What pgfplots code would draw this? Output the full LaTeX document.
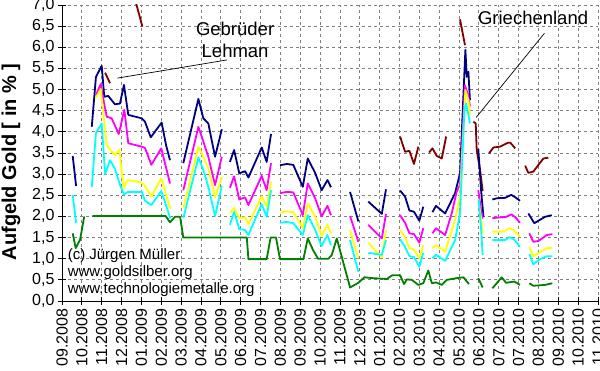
\documentclass[border=0pt]{standalone}
\usepackage{fontspec}
\setmainfont{Liberation Sans}
\usepackage{pgfplots}
\pgfplotsset{compat=1.18}
\definecolor{cMaroon}{RGB}{128,0,0}
\definecolor{cNavy}{RGB}{0,0,128}
\definecolor{cMagenta}{RGB}{255,0,255}
\definecolor{cYellow}{RGB}{255,255,0}
\definecolor{cCyan}{RGB}{0,255,255}
\definecolor{cGreen}{RGB}{0,128,0}
\definecolor{cGrid}{RGB}{128,128,128}
\begin{document}
\begin{tikzpicture}
\path[use as bounding box] (0pt,0pt) rectangle (600pt,371pt);
\begin{axis}[
  at={(62pt,70pt)}, anchor=south west,
  width=536pt, height=296pt, scale only axis,
  xmin=0, xmax=27, ymin=0, ymax=7,
  xtick={0,1,2,3,4,5,6,7,8,9,10,11,12,13,14,15,16,17,18,19,20,21,22,23,24,25,26,27},
  xticklabels={09.2008,10.2008,11.2008,12.2008,01.2009,02.2009,03.2009,04.2009,05.2009,06.2009,07.2009,08.2009,09.2009,10.2009,11.2009,12.2009,01.2010,02.2010,03.2010,04.2010,05.2010,06.2010,07.2010,07.2010,08.2010,09.2010,10.2010,11.2010},
  ytick={0,0.5,1,1.5,2,2.5,3,3.5,4,4.5,5,5.5,6,6.5,7},
  /pgf/number format/use comma,
  /pgf/number format/fixed,
  /pgf/number format/fixed zerofill,
  /pgf/number format/precision=1,
  /pgf/number format/assume math mode=true,
  tick label style={font=\fontsize{16}{16}\selectfont},
  xticklabel style={rotate=90, anchor=east},
  axis x line*=bottom, axis y line*=left,
  axis line style={black, line width=0.8pt, -},
  grid=major,
  major grid style={cGrid, line width=0.8pt, dash pattern=on 3pt off 3pt},
  tick align=center, major tick length=8pt,
  tick style={black, line width=0.8pt},
  unbounded coords=jump,
  every axis plot/.append style={line width=1.8pt, line join=round, mark=none},
]
% maroon
\addplot[cMaroon] coordinates {
(2.17,5.40) (2.42,5.15) (2.5,nan)
(3.58,7.30) (4.05,6.49) (4.1,nan)
(17.03,3.89) (17.28,3.53) (17.50,3.55) (17.73,3.24) (17.95,3.65) (18.1,nan)
(18.49,3.51) (18.66,3.61) (18.88,3.43) (19.13,3.37) (19.35,3.89) (19.5,nan)
(20.05,6.66) (20.30,6.05) (20.4,nan)
(20.72,4.24) (20.84,4.20) (20.89,3.57) (21.06,3.10) (21.19,2.60) (21.3,nan)
(21.51,3.49) (21.73,3.63) (22.07,3.65) (22.45,3.74) (22.59,3.74) (22.83,3.61) (23.0,nan)
(23.33,3.20) (23.49,3.03) (23.74,3.06) (24.25,3.37) (24.50,3.39)
};
% navy
\addplot[cNavy] coordinates {
(0.54,3.43) (0.71,2.72) (1.0,nan)
(1.50,4.12) (1.71,5.30) (2.00,5.56) (2.13,4.83) (2.33,4.85) (2.67,4.65) (2.92,4.67) (3.12,5.11) (3.34,4.40) (4.02,4.32) (4.18,4.24) (4.47,3.87) (5.02,4.22) (5.24,3.69) (5.44,3.33) (5.6,nan)
(6.11,3.26) (6.87,4.78) (7.12,4.32) (7.37,4.20) (7.71,3.41) (8.05,4.06) (8.2,nan)
(8.46,3.29) (8.67,3.57) (8.93,3.02) (9.22,3.07) (9.39,2.92) (10.06,3.63) (10.31,3.29) (10.53,3.95) (10.7,nan)
(10.98,3.21) (11.32,3.24) (11.65,3.22) (12.13,2.70) (12.38,3.37) (12.75,3.03) (13.08,2.62) (13.37,2.86) (13.55,2.69) (13.7,nan)
(14.51,2.58) (14.93,1.88) (15.1,nan)
(15.43,2.35) (16.11,2.06) (16.32,2.64) (16.5,nan)
(17.03,2.61) (17.28,2.47) (17.50,2.14) (17.73,2.11) (18.00,1.90) (18.20,2.23) (18.4,nan)
(18.66,2.10) (18.84,2.25) (19.30,2.07) (19.80,2.55) (20.05,3.02) (20.32,5.94) (20.39,5.30) (20.47,5.42) (20.55,4.75) (20.7,nan)
(20.97,3.60) (21.11,2.62) (21.23,1.99) (21.4,nan)
(21.68,2.40) (21.91,2.43) (22.32,2.44) (22.63,2.51) (22.84,2.45) (23.07,2.37) (23.2,nan)
(23.49,2.07) (23.79,1.84) (24.33,1.99) (24.67,2.03)
};
% magenta
\addplot[cMagenta] coordinates {
(1.71,4.87) (1.95,5.13) (2.03,4.91) (2.25,4.36) (2.50,4.32) (2.86,3.95) (3.14,4.52) (3.34,3.73) (4.02,3.65) (4.18,3.62) (4.50,3.22) (5.00,3.61) (5.44,2.78) (5.6,nan)
(6.11,2.62) (6.87,4.12) (7.12,3.77) (7.37,3.41) (7.71,2.74) (8.05,3.41) (8.2,nan)
(8.46,2.68) (8.67,2.95) (8.93,2.40) (9.22,2.45) (9.39,2.27) (10.06,2.96) (10.31,2.62) (10.53,3.26) (10.7,nan)
(10.98,2.55) (11.32,2.58) (11.65,2.57) (12.13,2.03) (12.38,2.78) (12.75,2.43) (13.08,2.00) (13.37,2.25) (13.55,2.03) (13.7,nan)
(14.51,2.01) (14.93,1.40) (15.1,nan)
(15.43,1.80) (16.11,1.48) (16.32,2.06) (16.5,nan)
(17.03,2.03) (17.28,1.85) (17.50,1.60) (17.73,1.58) (18.00,1.38) (18.20,1.72) (18.4,nan)
(18.66,1.60) (18.84,1.72) (19.30,1.56) (19.63,2.07) (19.88,2.58) (20.05,2.75) (20.30,5.10) (20.47,4.85) (20.55,4.60) (20.7,nan)
(20.97,2.62) (21.11,2.15) (21.19,1.95) (21.4,nan)
(21.68,1.96) (21.91,1.97) (22.37,1.99) (22.63,2.05) (22.84,1.98) (23.07,1.85) (23.2,nan)
(23.54,1.60) (23.74,1.40) (24.00,1.42) (24.42,1.56) (24.70,1.58)
};
% yellow
\addplot[cYellow] coordinates {
(1.71,4.80) (1.95,5.02) (2.25,3.70) (2.42,3.58) (2.67,3.45) (2.89,3.58) (3.10,2.68) (3.31,2.86) (4.02,2.80) (4.18,2.72) (4.50,2.47) (5.00,2.90) (5.46,2.18) (5.6,nan)
(6.11,2.19) (6.87,3.65) (7.12,3.41) (7.37,3.14) (7.71,2.45) (8.05,2.94) (8.2,nan)
(8.46,2.08) (8.67,2.20) (8.93,1.96) (9.22,1.98) (9.39,1.82) (10.06,2.48) (10.31,2.23) (10.53,2.82) (10.7,nan)
(10.98,2.09) (11.32,2.12) (11.65,2.10) (12.13,1.72) (12.38,2.31) (12.75,1.99) (13.08,1.54) (13.37,1.80) (13.55,1.60) (13.7,nan)
(14.51,1.68) (14.93,1.01) (15.1,nan)
(15.43,1.38) (16.11,1.03) (16.32,1.67) (16.5,nan)
(17.03,1.68) (17.28,1.51) (17.50,1.25) (17.73,1.22) (18.00,1.01) (18.20,1.32) (18.4,nan)
(18.66,1.25) (18.84,1.32) (19.30,1.17) (19.80,1.92) (20.05,2.47) (20.32,4.99) (20.47,4.75) (20.55,4.40) (20.7,nan)
(20.97,2.42) (21.11,1.95) (21.19,1.60) (21.4,nan)
(21.68,1.64) (22.23,1.64) (22.54,1.72) (22.79,1.66) (23.07,1.52) (23.2,nan)
(23.54,1.28) (23.74,1.06) (24.00,1.13) (24.42,1.25) (24.70,1.25)
};
% cyan
\addplot[cCyan] coordinates {
(0.54,2.51) (0.71,1.85) (1.0,nan)
(1.50,2.70) (1.71,3.97) (2.00,4.20) (2.17,3.00) (2.42,3.33) (2.67,3.12) (2.92,2.75) (3.12,2.52) (3.31,2.58) (4.02,2.58) (4.18,2.37) (4.50,2.27) (5.00,2.60) (5.46,1.95) (5.6,nan)
(6.11,1.96) (6.87,3.39) (7.12,3.10) (7.37,2.70) (7.71,2.01) (8.05,2.72) (8.2,nan)
(8.46,1.80) (8.67,2.11) (8.93,1.70) (9.22,1.68) (9.39,1.56) (10.06,2.29) (10.31,1.99) (10.53,2.62) (10.7,nan)
(10.98,1.85) (11.32,1.87) (11.65,1.84) (12.13,1.56) (12.38,2.03) (12.75,1.68) (13.08,1.30) (13.37,1.56) (13.55,1.32) (13.7,nan)
(14.51,1.44) (14.93,0.69) (15.1,nan)
(15.43,1.14) (16.11,1.09) (16.32,1.44) (16.5,nan)
(17.03,1.46) (17.28,1.28) (17.50,1.06) (17.73,1.04) (18.00,0.81) (18.20,1.14) (18.4,nan)
(18.66,1.01) (18.84,1.09) (19.30,0.95) (19.80,1.44) (20.05,2.07) (20.27,4.52) (20.35,4.67) (20.47,4.40) (20.55,4.20) (20.7,nan)
(20.99,2.40) (21.11,1.70) (21.19,1.09) (21.4,nan)
(21.68,1.44) (22.32,1.44) (22.54,1.51) (22.79,1.45) (23.07,1.28) (23.2,nan)
(23.54,1.11) (23.74,0.87) (24.08,0.99) (24.42,1.06) (24.70,1.06)
};
% green
\addplot[cGreen] coordinates {
(0.54,1.60) (0.69,1.25) (0.91,1.45) (1.12,2.00) (1.3,nan)
(1.53,2.01) (5.22,2.01) (5.44,1.86) (5.69,1.99) (5.95,1.99) (6.11,1.50) (9.31,1.50) (9.39,0.99) (10.31,0.99) (10.51,1.50) (10.78,1.50) (10.98,0.99) (12.16,0.99) (12.38,1.48) (12.65,1.20) (12.90,1.00) (13.42,1.00) (13.59,1.09) (13.84,1.48) (14.51,0.32) (14.93,0.43) (15.23,0.56) (15.68,0.54) (16.36,0.52) (16.64,0.61) (17.03,0.61) (17.23,0.40) (17.37,0.51) (17.62,0.50) (17.95,0.38) (18.20,0.42) (18.45,0.72) (18.63,0.42) (18.84,0.44) (19.13,0.38) (19.38,0.50) (19.88,0.54) (20.22,0.56) (20.50,0.40) (20.7,nan)
(20.97,0.54) (21.19,0.32) (21.4,nan)
(21.68,0.30) (22.15,0.56) (22.37,0.43) (22.79,0.46) (23.07,0.38) (23.2,nan)
(23.54,0.42) (23.74,0.36) (24.33,0.38) (24.70,0.42)
};
\draw[black, line width=0.7pt] (axis cs:2.79,5.27) -- (axis cs:8.30,5.70);
\draw[black, line width=0.7pt] (axis cs:24.30,6.33) -- (axis cs:20.86,4.34);
\node[align=center, font=\fontsize{18.5}{22}\selectfont] at (axis cs:8.72,6.17) {Gebrüder\\Lehman};
\node[font=\fontsize{18.5}{22}\selectfont] at (axis cs:23.73,6.69) {Griechenland};
\node[anchor=north west, inner sep=0pt, align=left, font=\fontsize{15}{17}\selectfont] at (axis cs:0.28,1.24) {(c) Jürgen Müller\\www.goldsilber.org\\www.technologiemetalle.org};
\end{axis}
\node[rotate=90, font=\fontsize{20}{20}\selectfont\bfseries] at (11pt,209pt) {Aufgeld Gold [ in \% ]};
\end{tikzpicture}
\end{document}
